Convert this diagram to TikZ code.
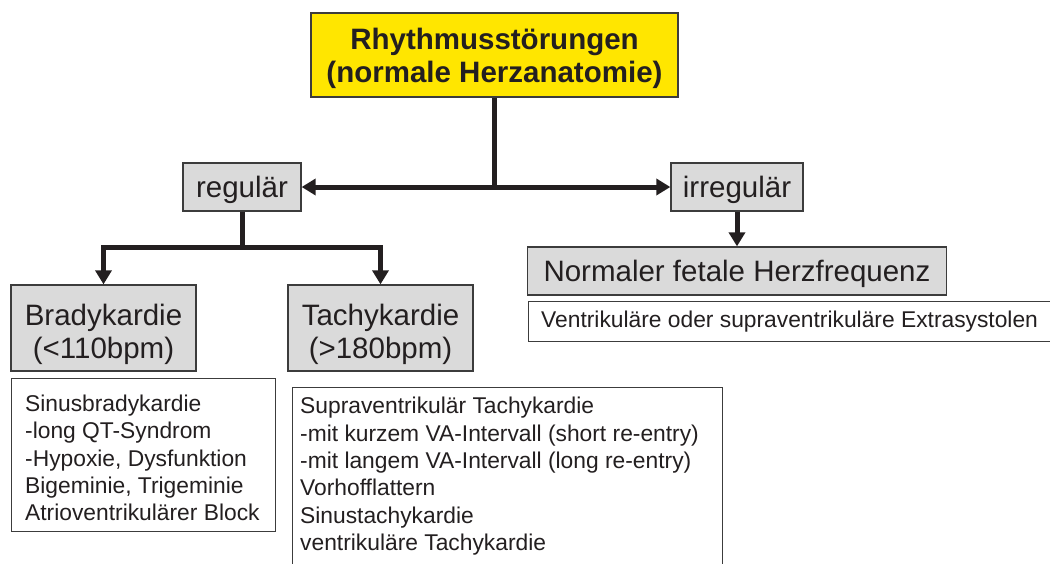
\documentclass[tikz,border=0pt]{standalone}
\usepackage{fontspec}
\setmainfont{Liberation Sans}
\usetikzlibrary{arrows.meta}
\definecolor{tyellow}{RGB}{255,230,0}
\definecolor{tgrey}{RGB}{218,218,218}
\definecolor{tborder}{RGB}{60,60,60}
\definecolor{tink}{RGB}{35,31,32}
\newcommand{\lift}[1]{\rule{0pt}{#1}}
\begin{document}
\begin{tikzpicture}[x=1pt,y=-1pt,
  box/.style={draw=tborder, line width=1.3pt, inner sep=0pt, text=tink},
  greybox/.style={box, fill=tgrey, font=\fontsize{29.5}{33}\selectfont, align=center},
  oneline/.style={text height=27pt, text depth=6pt},
  listbox/.style={box, fill=white},
  listtext/.style={anchor=north west, inner sep=0pt, align=left, text=tink, font=\fontsize{22.8}{27.4}\selectfont},
  conn/.style={line width=5pt, draw=tink, -{Triangle[width=16pt,length=14pt]}},
  stem/.style={line width=5pt, draw=tink}]
\useasboundingbox (0,0) rectangle (1050,563);
\node[box, fill=tyellow, minimum width=367pt, minimum height=84pt, font=\bfseries\fontsize{29.5}{33}\selectfont, align=center] (top) at (494.5,55) {\lift{28pt}Rhythmusstörungen\\(normale Herzanatomie)};
\node[greybox, oneline, minimum width=118pt, minimum height=48pt] (reg) at (242,187) {regulär};
\node[greybox, oneline, minimum width=132pt, minimum height=48pt] (irr) at (737,187) {irregulär};
\node[greybox, oneline, minimum width=419pt, minimum height=48pt] (norm) at (737,271) {Normaler fetale Herzfrequenz};
\node[listbox, anchor=north west, minimum width=532pt, minimum height=40pt] (extra) at (528,301) {};
\node[listtext, anchor=west] (extratext) at (541,322) {Ventrikuläre oder supraventrikuläre Extrasystolen};
\node[greybox, minimum width=185pt, minimum height=86pt] (brady) at (103.5,328) {\lift{33.5pt}Bradykardie\\(<110bpm)};
\node[greybox, minimum width=185pt, minimum height=86pt] (tachy) at (380.5,328) {\lift{33.5pt}Tachykardie\\(>180bpm)};
\node[listbox, anchor=north west, minimum width=264pt, minimum height=153pt] (bradylist) at (11,378) {};
\node[listtext] (bradytext) at (25,394.5) {Sinusbradykardie\\-long QT-Syndrom\\-Hypoxie, Dysfunktion\\Bigeminie, Trigeminie\\Atrioventrikulärer Block};
\node[listbox, anchor=north west, minimum width=430pt, minimum height=200pt] (tachylist) at (292,387) {};
\node[listtext] (tachytext) at (300,397) {Supraventrikulär Tachykardie\\-mit kurzem VA-Intervall (short re-entry)\\-mit langem VA-Intervall (long re-entry)\\Vorhofflattern\\Sinustachykardie\\ventrikuläre Tachykardie};
\draw[stem] (top.south) -- (top.south |- reg.east) coordinate (hub);
\draw[conn] (hub) -- (reg.east);
\draw[conn] (hub) -- (irr.west);
\draw[stem] (reg.south) -- ++(0,36) coordinate (lhub);
\draw[conn] (lhub) -| (brady.north);
\draw[conn] (lhub) -| (tachy.north);
\draw[conn] (irr.south) -- (norm.north);
\end{tikzpicture}
\end{document}
